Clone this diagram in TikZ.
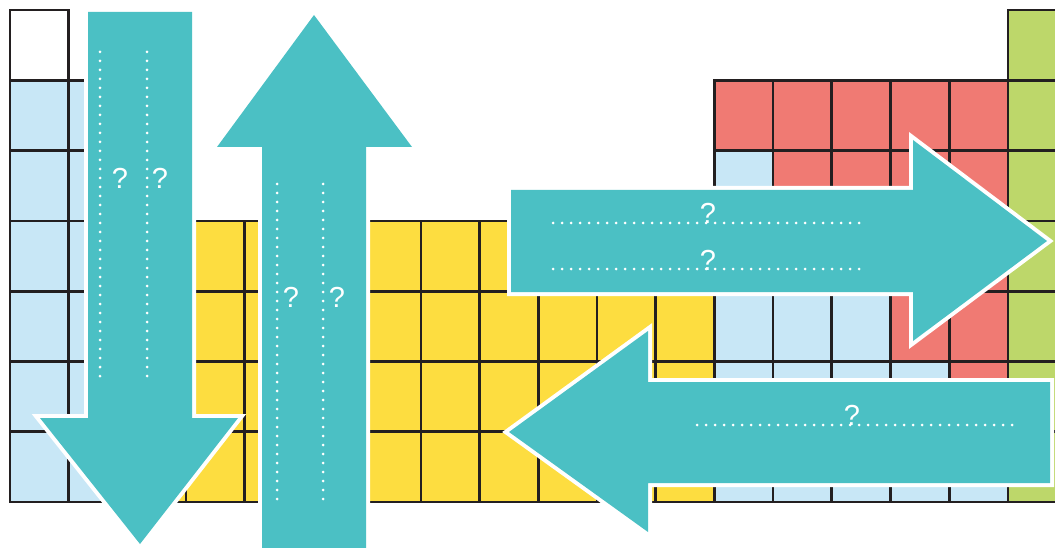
\documentclass[tikz,border=0pt]{standalone}
\usepackage{fontspec}
\setmainfont{Liberation Sans}
\usepackage{tikz}
\definecolor{gridline}{RGB}{35,31,32}
\definecolor{cellblue}{RGB}{200,231,246}
\definecolor{cellyellow}{RGB}{253,221,64}
\definecolor{cellred}{RGB}{240,122,115}
\definecolor{cellgreen}{RGB}{189,215,106}
\definecolor{arrowteal}{RGB}{75,192,196}
\newcommand{\cellat}[3]{\path[cell,fill=#3] ({10+58.7*(#1-1)},{10+70.3*(#2-1)}) rectangle ++(58.7,70.3);}

\begin{document}
\begin{tikzpicture}[x=1pt,y=-1pt,
    cell/.style={draw=gridline,line width=2.7pt},
    bigarrow/.style={fill=arrowteal,preaction={draw=white,line width=8pt,line join=miter}},
    dotline/.style={draw=white,line width=3pt,line cap=round,dash pattern=on 0pt off 9pt},
    qmark/.style={anchor=base,text=white,inner sep=0pt,font=\fontsize{29}{29}\selectfont}]
  \useasboundingbox (0,0) rectangle (1055,548);
  \clip (0,0) rectangle (1055,548);
  \cellat{1}{1}{white}
  \foreach \r in {2,...,7} {\cellat{1}{\r}{cellblue} \cellat{2}{\r}{cellblue}}
  \foreach \r in {4,...,7} \foreach \c in {3,...,12} {\cellat{\c}{\r}{cellyellow}}
  \foreach \r in {2,...,7} \foreach \c in {13,...,17} {%
    \ifnum\c>\numexpr\r+10\relax \cellat{\c}{\r}{cellred}\else \cellat{\c}{\r}{cellblue}\fi}
  \foreach \r in {1,...,7} {\cellat{18}{\r}{cellgreen}}

  \path[bigarrow] (88,12) -- (192,12) -- (192,418) -- (238,418) -- (140,544) -- (40,418) -- (88,418) -- cycle;
  \path[bigarrow] (262,570) -- (262,147) -- (217,147) -- (314,15) -- (412,147) -- (366,147) -- (366,570) -- cycle;
  \path[bigarrow] (511,190) -- (913,190) -- (913,140) -- (1047,241) -- (913,341) -- (913,292) -- (511,292) -- cycle;
  \path[bigarrow] (1050,382) -- (648,382) -- (648,331) -- (509,432) -- (648,532) -- (648,483) -- (1050,483) -- cycle;

  \draw[dotline] (100,52) -- (100,376);
  \draw[dotline] (147,52) -- (147,376);
  \node[qmark] (qdownA) at (120,189) {?};
  \node[qmark] (qdownB) at (160,189) {?};

  \draw[dotline] (277,184) -- (277,505);
  \draw[dotline] (323,184) -- (323,505);
  \node[qmark] (qupA) at (291,307) {?};
  \node[qmark] (qupB) at (337,307) {?};

  \draw[dotline] (553,223) -- (866,223);
  \draw[dotline] (553,269) -- (866,269);
  \node[qmark] (qrightA) at (708,224) {?};
  \node[qmark] (qrightB) at (708,270) {?};

  \draw[dotline] (697,425) -- (1012,425);
  \node[qmark] (qleft) at (852,425) {?};
\end{tikzpicture}
\end{document}
